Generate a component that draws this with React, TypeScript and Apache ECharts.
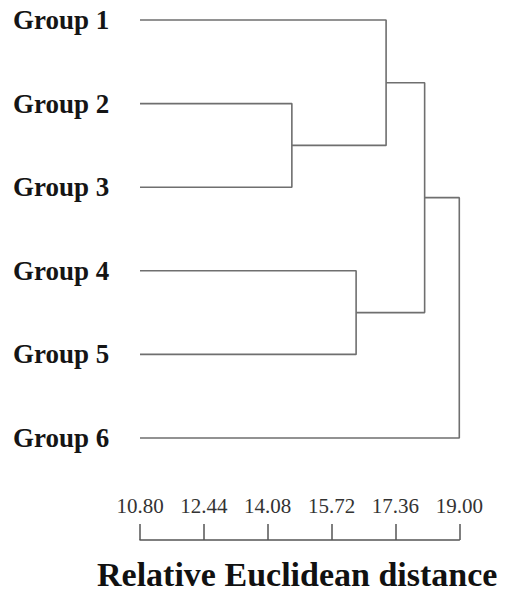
import React, { useEffect, useRef } from "react";
import * as echarts from "echarts";

// Leaf labels, top to bottom
const groups = ["Group 1", "Group 2", "Group 3", "Group 4", "Group 5", "Group 6"];

// Distance axis tick values
const tickValues = [10.8, 12.44, 14.08, 15.72, 17.36, 19.0];

// Leaves start at the left end of the distance scale
const leafDistance = 10.8;

// Linkage table: node ids 0-5 are leaves, merge k creates node 6 + k
const mergeLeft = [1, 0, 3, 7, 9];
const mergeRight = [2, 6, 4, 8, 5];
const mergeDistance = [14.7, 17.12, 16.35, 18.11, 19.0];

const SERIF = '"Liberation Serif", "Times New Roman", serif';
const LINE_COLOR = "#6f6f6f";

function buildSeries() {
  const nodeX: number[] = groups.map(() => leafDistance);
  const nodeY: number[] = groups.map((_, i) => i);
  const series: any[] = [];
  mergeDistance.forEach((h, k) => {
    const a = mergeLeft[k];
    const b = mergeRight[k];
    const ya = nodeY[a];
    const yb = nodeY[b];
    series.push({
      type: "line",
      name: "merge" + k,
      symbol: "none",
      silent: true,
      clip: false,
      lineStyle: { color: LINE_COLOR, width: 1.6 },
      data: [
        [nodeX[a], ya],
        [h, ya],
        [h, yb],
        [nodeX[b], yb],
      ],
    });
    nodeX.push(h);
    nodeY.push((ya + yb) / 2);
  });
  return series;
}

export default function App() {
  const ref = useRef<HTMLDivElement>(null);

  useEffect(() => {
    if (!ref.current) return;
    const chart = echarts.init(ref.current, null, { renderer: "svg" });
    chart.setOption({
      animation: false,
      backgroundColor: "#ffffff",
      grid: { left: 140, right: 50.7, top: 20, height: 418 },
      xAxis: {
        type: "value",
        min: tickValues[0],
        max: tickValues[tickValues.length - 1],
        position: "bottom",
        offset: 102,
        axisLine: { show: true, onZero: false, lineStyle: { color: "#555", width: 1.5 } },
        axisTick: {
          show: true,
          inside: true,
          length: 16,
          customValues: tickValues,
          lineStyle: { color: "#555", width: 1.5 },
        },
        axisLabel: {
          inside: true,
          margin: 34.5,
          verticalAlign: "middle",
          customValues: tickValues,
          formatter: (v: number) => v.toFixed(2),
          color: "#333",
          fontFamily: SERIF,
          fontSize: 21,
        },
        splitLine: { show: false },
      },
      yAxis: {
        type: "value",
        inverse: true,
        min: 0,
        max: groups.length - 1,
        interval: 1,
        axisLine: { show: false },
        axisTick: { show: false },
        splitLine: { show: false },
        axisLabel: {
          align: "left",
          margin: 127,
          formatter: (v: number) => groups[v] ?? "",
          color: "#151515",
          fontFamily: SERIF,
          fontWeight: "bold",
          fontSize: 27,
        },
      },
      graphic: [
        {
          type: "text",
          x: 97,
          y: 574,
          style: {
            text: "Relative Euclidean distance",
            fill: "#111",
            font: `bold 34px ${SERIF}`,
            lineHeight: 34,
            align: "left",
            verticalAlign: "middle",
          },
        },
      ],
      series: buildSeries(),
    });
    return () => chart.dispose();
  }, []);

  return (
    <div
      ref={ref}
      style={{ position: "fixed", left: 0, top: 0, width: 510, height: 591 }}
    />
  );
}
